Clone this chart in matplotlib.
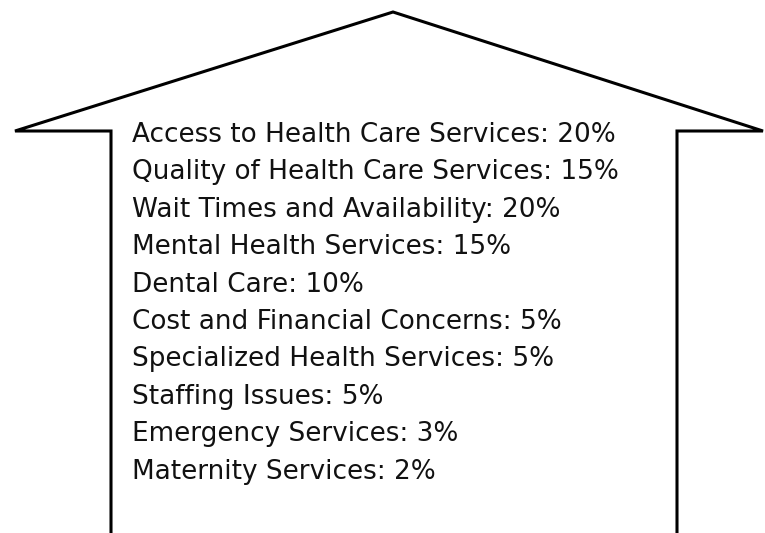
import matplotlib
matplotlib.use("Agg")
import matplotlib.pyplot as plt

categories = [
    "Access to Health Care Services",
    "Quality of Health Care Services",
    "Wait Times and Availability",
    "Mental Health Services",
    "Dental Care",
    "Cost and Financial Concerns",
    "Specialized Health Services",
    "Staffing Issues",
    "Emergency Services",
    "Maternity Services",
]
percentages = [20, 15, 20, 15, 10, 5, 5, 5, 3, 2]

W, H = 765, 533
fig = plt.figure(figsize=(W / 100, H / 100), dpi=100)
ax = fig.add_axes([0, 0, 1, 1])
ax.set_xlim(0, W)
ax.set_ylim(H, 0)
ax.axis("off")

# house outline
xs = [111, 111, 15, 393, 763, 677, 677]
ys = [H + 5, 131, 131, 12, 131, 131, H + 5]
ax.plot(xs, ys, color="black", lw=2.2, solid_joinstyle="miter", clip_on=False)

y0, dy = 141.8, 37.45
for i, (c, p) in enumerate(zip(categories, percentages)):
    ax.text(132, y0 + i * dy, f"{c}: {p}%", fontsize=18.9, family="DejaVu Sans",
            ha="left", va="baseline", color="#111111")

fig.savefig("out.png", dpi=100)
